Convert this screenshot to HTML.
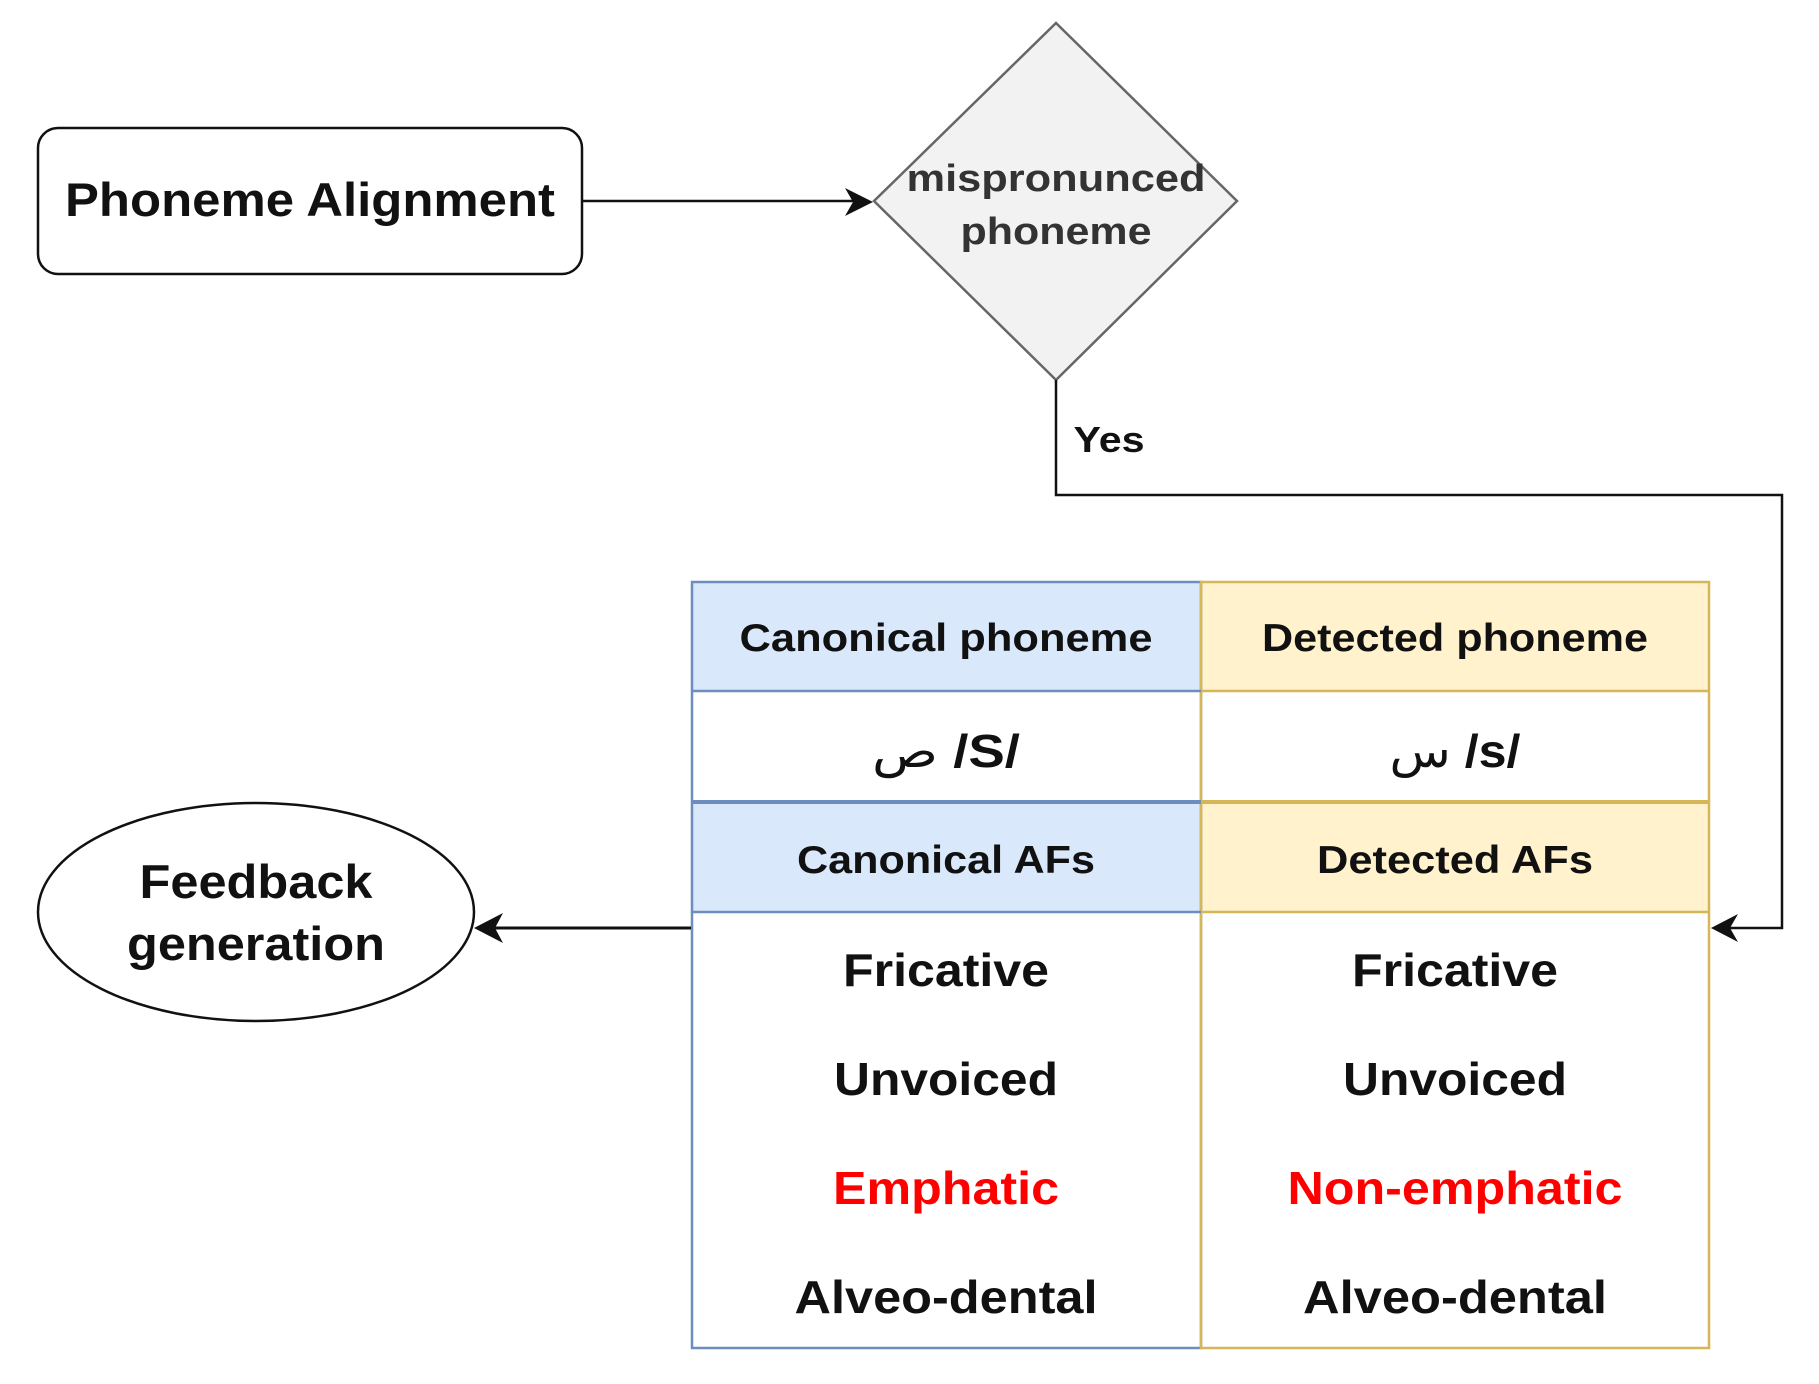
<!DOCTYPE html>
<html><head><meta charset="utf-8"><style>
html,body{margin:0;padding:0;background:#fff;}
svg{display:block;}
text{font-family:"Liberation Sans","DejaVu Sans",sans-serif;font-weight:bold;text-anchor:middle;}
</style></head><body>
<svg width="1819" height="1384" viewBox="0 0 1819 1384" xmlns="http://www.w3.org/2000/svg">
<!-- Phoneme Alignment -->
<rect x="38" y="128" width="544" height="146" rx="20" fill="#fff" stroke="#111" stroke-width="2.5"/>
<text x="310" y="216" font-size="47" fill="#111" textLength="490" lengthAdjust="spacingAndGlyphs">Phoneme Alignment</text>
<line x1="582" y1="201" x2="860" y2="201" stroke="#111" stroke-width="2.5"/>
<polygon points="873,202 845,188 853,202 845,216" fill="#111"/>
<polygon points="1056,23 1237,201 1056,380 874,201" fill="#f2f2f2" stroke="#666" stroke-width="2.5"/>
<text x="1056" y="191" font-size="38" fill="#333" textLength="299" lengthAdjust="spacingAndGlyphs">mispronunced</text>
<text x="1056" y="244" font-size="38" fill="#333" textLength="191" lengthAdjust="spacingAndGlyphs">phoneme</text>
<polyline points="1056,380 1056,495 1782,495 1782,928 1720,928" fill="none" stroke="#111" stroke-width="2.5"/>
<polygon points="1711,928 1738,914 1730,928 1738,942" fill="#111"/>
<text x="1109" y="452" font-size="36" fill="#111" textLength="71" lengthAdjust="spacingAndGlyphs">Yes</text>
<rect x="692" y="582" width="509" height="109" fill="#dae8fc"/>
<rect x="1201" y="582" width="508" height="109" fill="#fff2cc"/>
<rect x="692" y="803" width="509" height="109" fill="#dae8fc"/>
<rect x="1201" y="803" width="508" height="109" fill="#fff2cc"/>
<g fill="none" stroke-width="2.5">
<rect x="692" y="582" width="509" height="766" stroke="#6c8ebf"/>
<rect x="1201" y="582" width="508" height="766" stroke="#d6b656"/>
<line x1="692" y1="691" x2="1201" y2="691" stroke="#6c8ebf"/>
<line x1="1201" y1="691" x2="1709" y2="691" stroke="#d6b656"/>
<line x1="692" y1="802" x2="1201" y2="802" stroke="#6c8ebf" stroke-width="4"/>
<line x1="1201" y1="802" x2="1709" y2="802" stroke="#d6b656" stroke-width="4"/>
<line x1="692" y1="912" x2="1201" y2="912" stroke="#6c8ebf"/>
<line x1="1201" y1="912" x2="1709" y2="912" stroke="#d6b656"/>
</g>
<text x="946" y="651" font-size="39" fill="#111" textLength="413" lengthAdjust="spacingAndGlyphs">Canonical phoneme</text>
<text x="1455" y="651" font-size="39" fill="#111" textLength="386" lengthAdjust="spacingAndGlyphs">Detected phoneme</text>
<text x="946" y="767" font-size="46" fill="#111" textLength="148" lengthAdjust="spacingAndGlyphs"><tspan font-weight="normal">ص</tspan> /S/</text>
<text x="1455" y="767" font-size="46" fill="#111" textLength="131" lengthAdjust="spacingAndGlyphs"><tspan font-weight="normal">س</tspan> /s/</text>
<text x="946" y="873" font-size="39" fill="#111" textLength="298" lengthAdjust="spacingAndGlyphs">Canonical AFs</text>
<text x="1455" y="873" font-size="39" fill="#111" textLength="276" lengthAdjust="spacingAndGlyphs">Detected AFs</text>
<g font-size="46" lengthAdjust="spacingAndGlyphs">
<text x="946" y="986" fill="#111" textLength="206" lengthAdjust="spacingAndGlyphs">Fricative</text>
<text x="1455" y="986" fill="#111" textLength="206" lengthAdjust="spacingAndGlyphs">Fricative</text>
<text x="946" y="1095" fill="#111" textLength="224" lengthAdjust="spacingAndGlyphs">Unvoiced</text>
<text x="1455" y="1095" fill="#111" textLength="224" lengthAdjust="spacingAndGlyphs">Unvoiced</text>
<text x="946" y="1204" fill="#ff0000" textLength="226" lengthAdjust="spacingAndGlyphs">Emphatic</text>
<text x="1455" y="1204" fill="#ff0000" textLength="335" lengthAdjust="spacingAndGlyphs">Non-emphatic</text>
<text x="946" y="1313" fill="#111" textLength="303" lengthAdjust="spacingAndGlyphs">Alveo-dental</text>
<text x="1455" y="1313" fill="#111" textLength="304" lengthAdjust="spacingAndGlyphs">Alveo-dental</text>
</g>
<line x1="691" y1="928" x2="485" y2="928" stroke="#111" stroke-width="3"/>
<polygon points="474,928 503,913 495,928 503,943" fill="#111"/>
<ellipse cx="256" cy="912" rx="218" ry="109" fill="#fff" stroke="#111" stroke-width="2.5"/>
<text x="256" y="898" font-size="47" fill="#111" textLength="233" lengthAdjust="spacingAndGlyphs">Feedback</text>
<text x="256" y="960" font-size="47" fill="#111" textLength="258" lengthAdjust="spacingAndGlyphs">generation</text>
</svg>
</body></html>
